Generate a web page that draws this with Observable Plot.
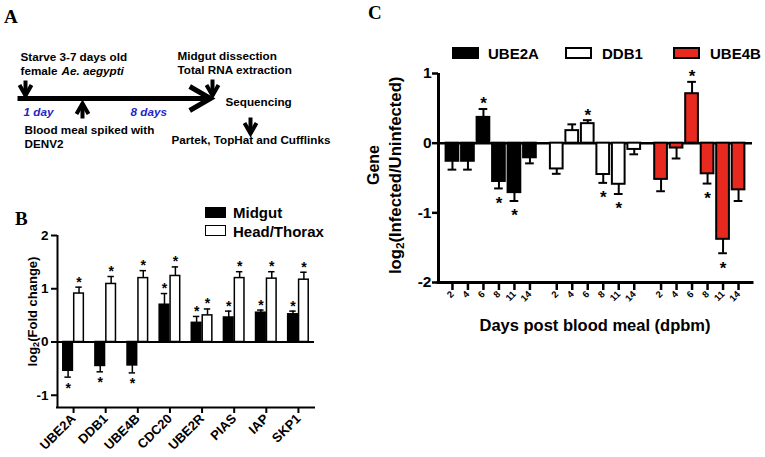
<!DOCTYPE html>
<html><head><meta charset="utf-8">
<script src="https://cdn.jsdelivr.net/npm/d3@7"></script>
<script src="https://cdn.jsdelivr.net/npm/@observablehq/plot@0.6"></script>
<style>
body{margin:0;background:#fff;}
#fig{position:relative;width:765px;height:457px;background:#fff;overflow:hidden;
 font-family:"Liberation Sans",Arial,Helvetica,sans-serif;font-weight:bold;color:#000;}
.abs{position:absolute;line-height:1;white-space:nowrap;}
.letter{font-family:"Liberation Serif","Times New Roman",serif;font-weight:bold;font-size:19px;}
.box{position:absolute;box-sizing:border-box;border:1.5px solid #000;}
.rot{transform:rotate(-90deg);transform-origin:50% 50%;text-align:center;}
sub{font-size:70%;vertical-align:-0.25em;line-height:0;}
</style></head>
<body>
<div id="fig"></div>
<script>
// ---------- Panel B data ----------
const bGenes = ["UBE2A","DDB1","UBE4B","CDC20","UBE2R","PIAS","IAP","SKP1"];
const bTissues = ["Midgut","Head/Thorax"];
const bMidgut    = [-0.54,-0.45,-0.44,0.70,0.36,0.46,0.55,0.52];
const bMidgutErr = [0.12,0.11,0.14,0.21,0.12,0.12,0.05,0.06];
const bHead      = [0.91,1.09,1.20,1.24,0.50,1.20,1.19,1.17];
const bHeadErr   = [0.12,0.14,0.14,0.17,0.12,0.12,0.13,0.14];
const bMidgutSig = [1,1,1,1,1,1,1,1];
const bHeadSig   = [1,1,1,1,1,1,1,1];
const bYTicks = [-1,0,1,2];

// ---------- Panel C data ----------
const cGenes = ["UBE2A","DDB1","UBE4B"];
const cDays = ["2","4","6","8","11","14"];
const cUBE2A    = [-0.26,-0.26,0.37,-0.55,-0.71,-0.21];
const cUBE2AErr = [0.12,0.12,0.12,0.10,0.12,0.08];
const cUBE2ASig = [0,0,1,1,1,0];
const cDDB1     = [-0.37,0.18,0.28,-0.45,-0.59,-0.09];
const cDDB1Err  = [0.07,0.09,0.05,0.12,0.14,0.07];
const cDDB1Sig  = [0,0,1,1,1,0];
const cUBE4B    = [-0.52,-0.07,0.71,-0.44,-1.38,-0.67];
const cUBE4BErr = [0.17,0.15,0.17,0.14,0.20,0.16];
const cUBE4BSig = [0,0,1,1,1,0];
const cYTicks = [-2,-1,0,1];

// ---------- Panel A text ----------
const aTexts = ["Starve 3-7 days old","female ","Ae. aegypti","1 day","8 days",
  "Blood meal spiked with","DENV2","Midgut dissection","Total RNA extraction",
  "Sequencing","Partek, TopHat and Cufflinks"];

// ---------- styles / layout ----------
const FONT = '"Liberation Sans", Arial, Helvetica, sans-serif';
const RED = "#e8291f";
const cColors = {UBE2A:"#000", DDB1:"#fff", UBE4B:RED};
const bColors = {"Midgut":"#000","Head/Thorax":"#fff"};

const fig = document.getElementById("fig");
function addDiv(html, cls, css){ const d=document.createElement("div"); d.className=cls; d.innerHTML=html; Object.assign(d.style,css); fig.appendChild(d); return d; }
function place(el, left, top){ const w=document.createElement("div"); w.style.position="absolute"; w.style.left=left+"px"; w.style.top=top+"px"; w.appendChild(el); fig.appendChild(w); }

// ================= Panel A (schematic) =================
const aLayout = {
  arrows:[
    {id:"timeline", x1:17,y1:98,x2:210,y2:98, w:5, head:24},
    {id:"starve", x1:25,y1:80,x2:25,y2:95, w:4, head:12},
    {id:"blood", x1:82,y1:118,x2:82,y2:103, w:4, head:12},
    {id:"dissect", x1:212,y1:79,x2:212,y2:95, w:4, head:12},
    {id:"seq", x1:250,y1:117,x2:250,y2:133, w:4, head:12}
  ],
  texts:[
    {t:0,x:20,y:57},{t:1,x:20,y:71},{t:2,x:61,y:71,italic:true},
    {t:3,x:23,y:112,italic:true,blue:true},{t:4,x:130,y:112,italic:true,blue:true},
    {t:5,x:24,y:130},{t:6,x:24,y:144},{t:7,x:177,y:56},{t:8,x:177,y:70},
    {t:9,x:225,y:102},{t:10,x:171,y:140}
  ]
};
function chevron(a){
  const ang=Math.atan2(a.y2-a.y1,a.x2-a.x1), h=Math.PI/6;
  return [
    {id:a.id,x:a.x2-a.head*Math.cos(ang-h),y:a.y2-a.head*Math.sin(ang-h),w:a.w},
    {id:a.id,x:a.x2,y:a.y2,w:a.w},
    {id:a.id,x:a.x2-a.head*Math.cos(ang+h),y:a.y2-a.head*Math.sin(ang+h),w:a.w}];
}
const heads = aLayout.arrows.flatMap(chevron);
const aTextRows = aLayout.texts.map(d=>({...d, text:aTexts[d.t]}));
const AFS = 11.7;
const plotA = Plot.plot({
  width:330, height:160, margin:0,
  x:{domain:[0,330], range:[0,330], axis:null},
  y:{domain:[0,160], range:[0,160], axis:null},
  style:{background:"transparent", overflow:"visible", fontFamily:FONT},
  marks:[
    Plot.link(aLayout.arrows,{x1:"x1",y1:"y1",x2:"x2",y2:"y2",stroke:"#000",strokeWidth:"w",strokeLinecap:"butt"}),
    Plot.line(heads,{x:"x",y:"y",z:"id",stroke:"#000",strokeWidth:"w",strokeLinejoin:"miter",strokeMiterlimit:10,strokeLinecap:"butt"}),
    Plot.text(aTextRows.filter(d=>!d.italic),{x:"x",y:"y",text:"text",textAnchor:"start",fontSize:AFS,fontWeight:"bold",fill:"#000"}),
    Plot.text(aTextRows.filter(d=>d.italic&&!d.blue),{x:"x",y:"y",text:"text",textAnchor:"start",fontSize:AFS,fontWeight:"bold",fontStyle:"italic",fill:"#000"}),
    Plot.text(aTextRows.filter(d=>d.blue),{x:"x",y:"y",text:"text",textAnchor:"start",fontSize:AFS,fontWeight:"bold",fontStyle:"italic",fill:"#2424c8"})
  ]
});
place(plotA,0,0);
addDiv("A","abs letter",{left:"4px",top:"7px"});

// ================= Panel B =================
const bDodge = 0.17, bHalf = 0.15, bCap = 0.1;
const bRows = [];
bGenes.forEach((g,i)=>{
  bRows.push({gene:g, gi:i, tissue:bTissues[0], pos:i-bDodge, v:bMidgut[i], e:bMidgutErr[i], sig:bMidgutSig[i]});
  bRows.push({gene:g, gi:i, tissue:bTissues[1], pos:i+bDodge, v:bHead[i], e:bHeadErr[i], sig:bHeadSig[i]});
});
bRows.forEach(d=>{ d.end = d.v + Math.sign(d.v)*d.e; });
const bX = [-0.5, bGenes.length-0.5], bY = [-1.23, 2];
const plotB = Plot.plot({
  width:330, height:257, marginLeft:57, marginRight:16, marginTop:35, marginBottom:50,
  x:{domain:bX}, y:{domain:bY},
  style:{background:"transparent", overflow:"visible", fontFamily:FONT, fontWeight:"bold", color:"#000"},
  marks:[
    Plot.ruleX(bRows,{x:"pos",y1:"v",y2:"end",stroke:"#000",strokeWidth:1.5}),
    Plot.ruleY(bRows,{y:"end",x1:d=>d.pos-bCap,x2:d=>d.pos+bCap,stroke:"#000",strokeWidth:1.5}),
    Plot.ruleY([0],{stroke:"#000",strokeWidth:2}),
    Plot.rectY(bRows,{x1:d=>d.pos-bHalf,x2:d=>d.pos+bHalf,y1:0,y2:"v",fill:d=>bColors[d.tissue],stroke:"#000",strokeWidth:1.5}),
    Plot.text(bRows.filter(d=>d.sig && d.v>0),{x:"pos",y:"end",text:()=>"*",dy:-5,fontSize:14,fontWeight:"bold"}),
    Plot.text(bRows.filter(d=>d.sig && d.v<0),{x:"pos",y:"end",text:()=>"*",dy:11,fontSize:14,fontWeight:"bold"}),
    Plot.ruleX([bX[0]],{y1:bY[0],y2:bY[1],stroke:"#000",strokeWidth:2}),
    Plot.ruleY([bY[0]],{stroke:"#000",strokeWidth:2,strokeLinecap:"square"}),
    Plot.axisY({ticks:bYTicks,tickFormat:d=>String(d),tickSize:6,tickPadding:3,fontSize:13.5,fontWeight:"bold",strokeWidth:2,label:null}),
    Plot.axisX({ticks:d3.range(bGenes.length),tickFormat:i=>bGenes[i],tickRotate:-45,tickSize:6,tickPadding:3,fontSize:13,fontWeight:"bold",strokeWidth:2,label:null})
  ]
});
place(plotB,0,200);
addDiv("B","abs letter",{left:"15px",top:"209px"});
addDiv("","box",{left:"205px",top:"207px",width:"21px",height:"11px",background:"#000"});
addDiv("Midgut","abs",{left:"233px",top:(212-7.5)+"px",fontSize:"15px"});
addDiv("","box",{left:"205px",top:"225px",width:"21px",height:"11px",background:"#fff"});
addDiv("Head/Thorax","abs",{left:"233px",top:(231-7.5)+"px",fontSize:"15px"});
addDiv("log<sub>2</sub>(Fold change)","abs rot",{left:(32-70)+"px",width:"140px",top:(311-6.5)+"px",fontSize:"13px"});

// ================= Panel C =================
const cGroupStep = 6.73, cHalf = 0.41, cCap = 0.28;
const cVals = {UBE2A:cUBE2A, DDB1:cDDB1, UBE4B:cUBE4B};
const cErrs = {UBE2A:cUBE2AErr, DDB1:cDDB1Err, UBE4B:cUBE4BErr};
const cSigs = {UBE2A:cUBE2ASig, DDB1:cDDB1Sig, UBE4B:cUBE4BSig};
const cRows = [];
cGenes.forEach((g,gi)=>cDays.forEach((day,di)=>{
  const v=cVals[g][di], e=cErrs[g][di];
  cRows.push({gene:g, day, pos:gi*cGroupStep+di, v, e, end:v+Math.sign(v)*e, sig:cSigs[g][di]});
}));
const cPosDay = new Map(cRows.map(d=>[d.pos,d.day]));
const cX = [-0.9, (cGenes.length-1)*cGroupStep + cDays.length - 1 + 0.9], cY = [-2, 1];
const plotC = Plot.plot({
  width:435, height:345, marginLeft:108, marginRight:13, marginTop:73, marginBottom:63,
  x:{domain:cX}, y:{domain:cY},
  style:{background:"transparent", overflow:"visible", fontFamily:FONT, fontWeight:"bold", color:"#000"},
  marks:[
    Plot.ruleX(cRows,{x:"pos",y1:"v",y2:"end",stroke:"#000",strokeWidth:2}),
    Plot.ruleY(cRows,{y:"end",x1:d=>d.pos-cCap,x2:d=>d.pos+cCap,stroke:"#000",strokeWidth:2}),
    Plot.ruleY([0],{stroke:"#000",strokeWidth:2.5}),
    Plot.rectY(cRows,{x1:d=>d.pos-cHalf,x2:d=>d.pos+cHalf,y1:0,y2:"v",fill:d=>cColors[d.gene],stroke:"#000",strokeWidth:2}),
    Plot.text(cRows.filter(d=>d.sig && d.v>0),{x:"pos",y:"end",text:()=>"*",dy:-5,fontSize:17,fontWeight:"bold"}),
    Plot.text(cRows.filter(d=>d.sig && d.v<0),{x:"pos",y:"end",text:()=>"*",dy:15,fontSize:17,fontWeight:"bold"}),
    Plot.ruleX([cX[0]],{y1:cY[0],y2:cY[1],stroke:"#000",strokeWidth:3}),
    Plot.ruleY([cY[0]],{stroke:"#000",strokeWidth:3,strokeLinecap:"square"}),
    Plot.axisY({ticks:cYTicks,tickFormat:d=>String(d),tickSize:6,tickPadding:1,fontSize:15.5,fontWeight:"bold",strokeWidth:2.5,label:null}),
    Plot.axisX({ticks:cRows.map(d=>d.pos),tickFormat:p=>cPosDay.get(p),tickRotate:-45,tickSize:8,tickPadding:2,fontSize:9.5,fontWeight:"bold",strokeWidth:2.5,label:null})
  ]
});
place(plotC,330,0);
addDiv("C","abs letter",{left:"368px",top:"3px"});
[["UBE2A",452,"#000",488],["DDB1",565,"#fff",602],["UBE4B",673,RED,710]].forEach(([t,bx,col,tx])=>{
  addDiv("","box",{left:bx+"px",top:"47px",width:"27px",height:"12px",background:col,borderWidth:"2px"});
  addDiv(t,"abs",{left:tx+"px",top:(53-7.5)+"px",fontSize:"15px"});
});
addDiv("Gene","abs rot",{left:(374-40)+"px",width:"80px",top:(165-8)+"px",fontSize:"16px"});
addDiv("log<sub>2</sub>(Infected/Uninfected)","abs rot",{left:(396-120)+"px",width:"240px",top:(175-8.3)+"px",fontSize:"16.7px"});
addDiv("Days post blood meal (dpbm)","abs",{left:(595-140)+"px",width:"280px",textAlign:"center",top:(325-8.3)+"px",fontSize:"16.5px"});
</script>
</body></html>
